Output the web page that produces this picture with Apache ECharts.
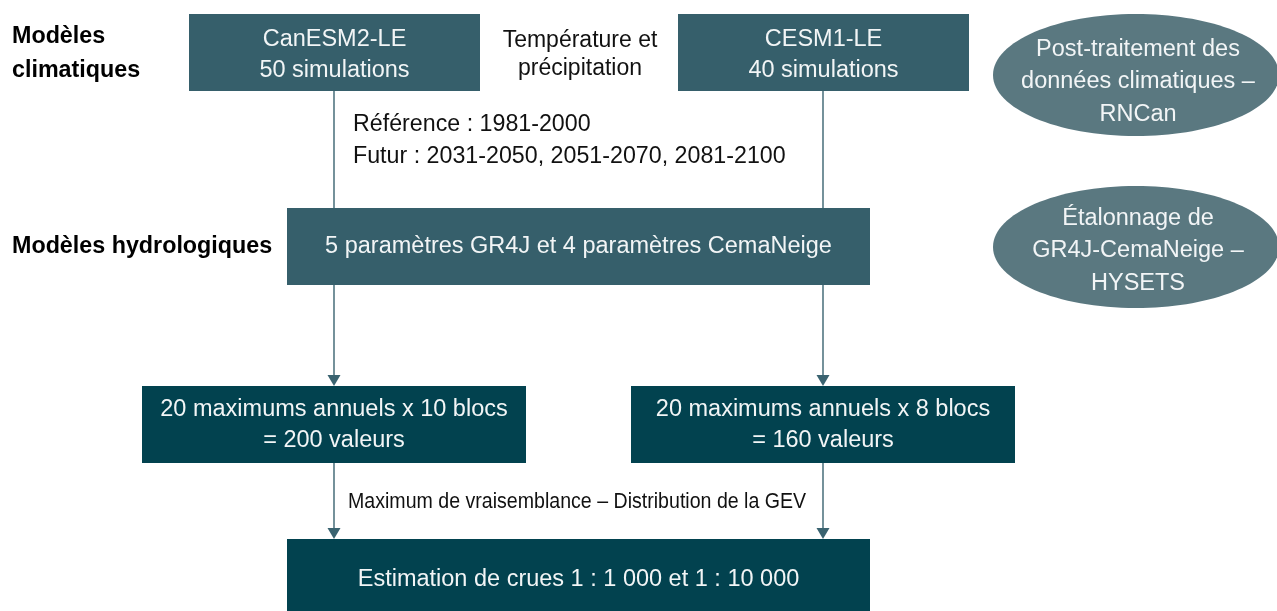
<!DOCTYPE html>
<html>
<head>
<meta charset="utf-8">
<script src="https://cdn.jsdelivr.net/npm/echarts@6/dist/echarts.min.js"></script>
<style>
  html, body { margin: 0; padding: 0; background: #ffffff; }
  #chart { width: 1277px; height: 611px; }
</style>
</head>
<body>
<div id="chart"></div>
<script>
// ---- Content (text of the flowchart) ----
const boxLabels = [
  'CanESM2-LE\n50 simulations',
  'CESM1-LE\n40 simulations',
  '5 paramètres GR4J et 4 paramètres CemaNeige',
  '20 maximums annuels x 10 blocs\n= 200 valeurs',
  '20 maximums annuels x 8 blocs\n= 160 valeurs',
  'Estimation de crues 1 : 1 000 et 1 : 10 000'
];
const noteLabels = [
  'Post-traitement des\ndonnées climatiques –\nRNCan',
  'Étalonnage de\nGR4J-CemaNeige –\nHYSETS'
];
const rowLabels = ['Modèles\nclimatiques', 'Modèles hydrologiques'];
const sideTexts = [
  'Température et\nprécipitation',
  'Référence : 1981-2000\nFutur : 2031-2050, 2051-2070, 2081-2100',
  'Maximum de vraisemblance – Distribution de la GEV'
];
// connections between boxes: [from, to, arrow?]
const links = [[0, 2, false], [1, 2, false], [2, 3, true], [2, 4, true], [3, 5, true], [4, 5, true]];

// ---- Layout (positions / sizes, axis units = pixels) ----
const boxLayout = [
  { x0: 189, y0: 14,  x1: 480, y1: 91,  dark: false, ty: 3 },
  { x0: 678, y0: 14,  x1: 969, y1: 91,  dark: false, ty: 3 },
  { x0: 287, y0: 208, x1: 870, y1: 285, dark: false, ty: 0 },
  { x0: 142, y0: 386, x1: 526, y1: 463, dark: true,  ty: 1 },
  { x0: 631, y0: 386, x1: 1015, y1: 463, dark: true, ty: 1 },
  { x0: 287, y0: 539, x1: 870, y1: 615, dark: true,  ty: 5 }
];
const columnX = [334, 823];
const linkColumn = [0, 1, 0, 1, 0, 1];
const noteLayout = [
  { cx: 1136, cy: 75,  rx: 143, ry: 61, ty: 82 },
  { cx: 1136, cy: 247, rx: 143, ry: 61, ty: 251 }
];
const rowLayout = [
  { x: 12, y: 54, lh: 34 },
  { x: 12, y: 247, lh: 30 }
];
const sideLayout = [
  { x: 580, y: 55, align: 'center', lh: 28, size: 23, sx: 1 },
  { x: 353, y: 140.5, align: 'left', lh: 32, size: 23, sx: 1.01 },
  { x: 348, y: 502, align: 'left', lh: 24, size: 22, sx: 0.89 }
];

// ---- Styles ----
const COL_BOX = '#365f6b';
const COL_DARK = '#02424f';
const COL_NOTE = '#5a7880';
const COL_LINE = '#3a6370';
const SANS = "'Liberation Sans', Arial, sans-serif";

const chart = echarts.init(document.getElementById('chart'), null, { renderer: 'canvas' });

const option = {
  backgroundColor: '#ffffff',
  animation: false,
  grid: { left: 0, right: 0, top: 0, bottom: 0 },
  xAxis: { type: 'value', min: 0, max: 1277, show: false },
  yAxis: { type: 'value', min: 0, max: 611, inverse: true, show: false },
  series: [
    // connectors
    {
      type: 'custom',
      z: 1,
      clip: false,
      data: links.map((l, i) => [columnX[linkColumn[i]], boxLayout[l[0]].y1, boxLayout[l[1]].y0, l[2] ? 1 : 0]),
      renderItem(params, api) {
        const a = api.coord([api.value(0), api.value(1)]);
        const b = api.coord([api.value(0), api.value(2)]);
        const arrow = api.value(3) === 1;
        const hs = 11, hw = 6.5;
        const children = [{
          type: 'line',
          shape: { x1: a[0], y1: a[1], x2: b[0], y2: arrow ? b[1] - hs + 1 : b[1] },
          style: { stroke: COL_LINE, lineWidth: 1.4 }
        }];
        if (arrow) {
          children.push({
            type: 'polygon',
            shape: { points: [[b[0] - hw, b[1] - hs], [b[0] + hw, b[1] - hs], [b[0], b[1]]] },
            style: { fill: COL_LINE }
          });
        }
        return { type: 'group', children };
      }
    },
    // boxes
    {
      type: 'custom',
      z: 2,
      clip: false,
      data: boxLayout.map((b, i) => [b.x0, b.y0, b.x1, b.y1, i]),
      renderItem(params, api) {
        const p0 = api.coord([api.value(0), api.value(1)]);
        const p1 = api.coord([api.value(2), api.value(3)]);
        const i = api.value(4);
        const L = boxLayout[i];
        return {
          type: 'group',
          children: [
            {
              type: 'rect',
              shape: { x: p0[0], y: p0[1], width: p1[0] - p0[0], height: p1[1] - p0[1] },
              style: { fill: L.dark ? COL_DARK : COL_BOX }
            },
            {
              type: 'text',
              x: (p0[0] + p1[0]) / 2,
              y: (p0[1] + Math.min(p1[1], 611)) / 2 + L.ty,
              style: {
                text: boxLabels[i],
                fill: '#f2f5f6',
                font: '23.5px ' + SANS,
                align: 'center',
                verticalAlign: 'middle',
                lineHeight: 31
              }
            }
          ]
        };
      }
    },
    // notes (ellipses)
    {
      type: 'custom',
      z: 2,
      clip: false,
      data: noteLayout.map((n, i) => [n.cx, n.cy, i]),
      renderItem(params, api) {
        const i = api.value(2);
        const L = noteLayout[i];
        const c = api.coord([L.cx, L.cy]);
        const s = api.size([L.rx, L.ry]);
        const t = api.coord([L.cx, L.ty]);
        return {
          type: 'group',
          children: [
            {
              type: 'ellipse',
              shape: { cx: c[0], cy: c[1], rx: s[0], ry: s[1] },
              style: { fill: COL_NOTE }
            },
            {
              type: 'text',
              x: t[0] + 2,
              y: t[1],
              style: {
                text: noteLabels[i],
                fill: '#f2f5f6',
                font: '23.5px ' + SANS,
                align: 'center',
                verticalAlign: 'middle',
                lineHeight: 32.5
              }
            }
          ]
        };
      }
    },
    // row labels (bold)
    {
      type: 'custom',
      z: 3,
      clip: false,
      data: rowLayout.map((r, i) => [r.x, r.y, i]),
      renderItem(params, api) {
        const i = api.value(2);
        const p = api.coord([api.value(0), api.value(1)]);
        return {
          type: 'text',
          x: p[0],
          y: p[1],
          style: {
            text: rowLabels[i],
            fill: '#000000',
            font: 'bold 23.3px ' + SANS,
            align: 'left',
            verticalAlign: 'middle',
            lineHeight: rowLayout[i].lh
          }
        };
      }
    },
    // side texts
    {
      type: 'custom',
      z: 3,
      clip: false,
      data: sideLayout.map((s, i) => [s.x, s.y, i]),
      renderItem(params, api) {
        const i = api.value(2);
        const L = sideLayout[i];
        const p = api.coord([api.value(0), api.value(1)]);
        return {
          type: 'text',
          x: p[0],
          y: p[1],
          scaleX: L.sx,
          style: {
            text: sideTexts[i],
            fill: '#111111',
            font: L.size + 'px ' + SANS,
            align: L.align,
            verticalAlign: 'middle',
            lineHeight: L.lh
          }
        };
      }
    }
  ]
};

chart.setOption(option);
</script>
</body>
</html>
